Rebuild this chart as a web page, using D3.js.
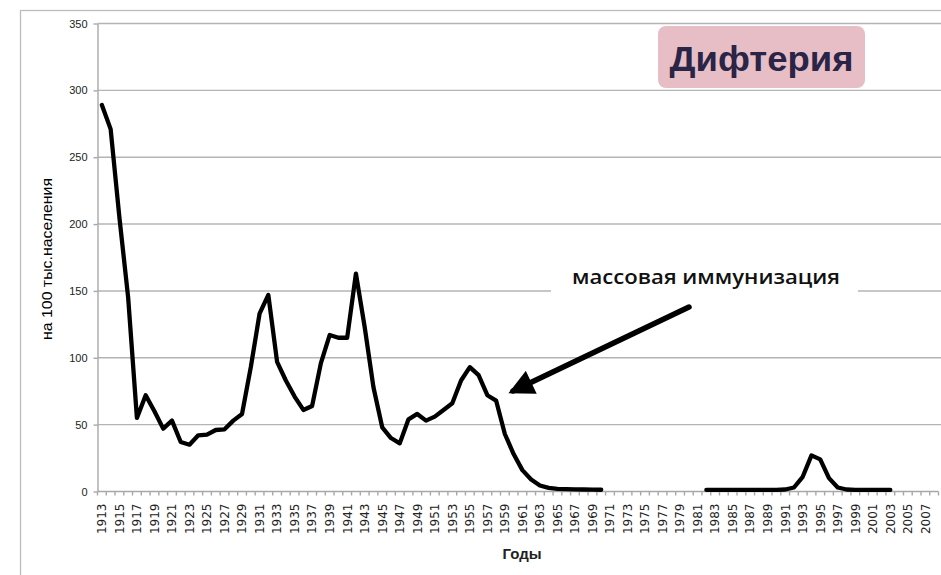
<!DOCTYPE html>
<html lang="ru">
<head>
<meta charset="UTF-8">
<title>Дифтерия</title>
<script src="https://d3js.org/d3.v7.min.js"></script>
<style>
  body { margin: 0; background: #fff; }
  svg { display: block; }
  .grid line { stroke: #b4b4b4; stroke-width: 1.4; }
  .axis path, .axis line { stroke: #a8a8a8; stroke-width: 1.4; }
  .axis text { fill: #222; }
  .curve { fill: none; stroke: #000; stroke-width: 4.3; stroke-linejoin: round; stroke-linecap: round; }
</style>
</head>
<body>
<svg width="941" height="575"></svg>
<script>
// years on the x axis, 1913..2008
const years = d3.range(1913, 2009);

// cases per 100 000 population (null = no data)
const cases = [
  289, 271, 205, 145, 55, 72, 60, 47, 53, 37,          // 1913-1922
  35, 42, 42.5, 46, 46.5, 53, 58, 93, 133, 147,       // 1923-1932
  97, 83, 71, 61, 64, 96, 117, 115, 115, 163,         // 1933-1942
  123, 78, 48, 40, 36, 54, 58, 53, 56, 61,            // 1943-1952
  66, 83, 93, 87, 72, 68, 43, 28, 16, 9,              // 1953-1962
  4.5, 2.7, 2, 1.8, 1.6, 1.5, 1.4, 1.3, null, null,   // 1963-1972
  null, null, null, null, null, null, null, null, null, 1.2, // 1973-1982
  1.2, 1.2, 1.2, 1.2, 1.2, 1.2, 1.2, 1.2, 1.5, 3,     // 1983-1992
  11, 27, 24, 10, 3, 1.5, 1.2, 1.2, 1.2, 1.2,         // 1993-2002
  1.2, null, null, null, null, null                   // 2003-2008
];

const yTicks = [0, 50, 100, 150, 200, 250, 300, 350];
const xLabelYears = years.filter(y => (y - 1913) % 2 === 0 && y <= 2007);

const chartTitle = "Дифтерия";
const yTitle = "на 100 тыс.населения";
const xTitle = "Годы";
const noteText = "массовая иммунизация";

const svg = d3.select("svg");

// outer frame of the pasted chart
svg.append("rect")
  .attr("x", 20.5).attr("y", 10.5)
  .attr("width", 940).attr("height", 600)
  .attr("fill", "none").attr("stroke", "#bdbdbd").attr("stroke-width", 1.3);

const x = d3.scaleBand().domain(years).range([97.5, 938.5]).padding(0);
const y = d3.scaleLinear().domain([0, 350]).range([491.5, 23.5]);

// horizontal grid
svg.append("g").attr("class", "grid")
  .selectAll("line").data(yTicks.filter(d => d > 0)).join("line")
  .attr("x1", 97.5).attr("x2", 941)
  .attr("y1", d => y(d)).attr("y2", d => y(d));

// y axis
const yAxis = svg.append("g").attr("class", "axis")
  .attr("transform", "translate(97.5,0)")
  .call(d3.axisLeft(y).tickValues(yTicks).tickSize(4).tickPadding(6).tickSizeOuter(0));
yAxis.selectAll("text")
  .attr("font-family", "Liberation Sans, Arial, sans-serif")
  .attr("font-size", 11)
  .attr("fill", "#333");

// x axis: labels every second year, tick marks on category boundaries
const xAxis = svg.append("g").attr("class", "axis")
  .attr("transform", "translate(0,491.5)")
  .call(d3.axisBottom(x).tickValues(xLabelYears).tickSize(0).tickSizeOuter(0));
xAxis.select(".domain").attr("d", "M97.5,0H938.5");
xAxis.selectAll("text")
  .attr("font-family", "DejaVu Sans, sans-serif")
  .attr("font-size", 12)
  .attr("fill", "#111")
  .attr("transform", "rotate(-90)")
  .attr("text-anchor", "end")
  .attr("x", -12)
  .attr("y", 0)
  .attr("dy", "0.36em");

xAxis.selectAll(".bound").data(years.concat([null])).join("line")
  .attr("class", "bound")
  .attr("x1", d => d === null ? 938.5 : x(d))
  .attr("x2", d => d === null ? 938.5 : x(d))
  .attr("y1", 0).attr("y2", 4);

// data line
const line = d3.line()
  .defined(d => d.v !== null)
  .x(d => x(d.year) + x.bandwidth() / 2)
  .y(d => y(d.v));

svg.append("path")
  .datum(years.map((yr, i) => ({ year: yr, v: cases[i] })))
  .attr("class", "curve")
  .attr("d", line);

// axis titles
svg.append("text")
  .attr("transform", "translate(52,259) rotate(-90)")
  .attr("text-anchor", "middle")
  .attr("font-family", "Liberation Sans, Arial, sans-serif")
  .attr("font-size", 15)
  .attr("textLength", 162)
  .attr("lengthAdjust", "spacingAndGlyphs")
  .attr("fill", "#000")
  .text(yTitle);

svg.append("text")
  .attr("x", 522).attr("y", 559)
  .attr("text-anchor", "middle")
  .attr("font-family", "Liberation Sans, Arial, sans-serif")
  .attr("font-size", 15)
  .attr("font-weight", "bold")
  .attr("fill", "#222")
  .text(xTitle);

// annotation with white backing and arrow
svg.append("rect")
  .attr("x", 551).attr("y", 262)
  .attr("width", 307).attr("height", 34)
  .attr("fill", "#fff");

svg.append("text")
  .attr("x", 706).attr("y", 284)
  .attr("text-anchor", "middle")
  .attr("font-family", "Open Sans, Liberation Sans, sans-serif")
  .attr("font-size", 19)
  .attr("font-weight", 600)
  .attr("textLength", 268)
  .attr("lengthAdjust", "spacingAndGlyphs")
  .attr("fill", "#111")
  .text(noteText);

svg.append("defs").append("marker")
  .attr("id", "head")
  .attr("viewBox", "0 0 10 10")
  .attr("refX", 8).attr("refY", 5)
  .attr("markerWidth", 5).attr("markerHeight", 4.6)
  .attr("orient", "auto")
  .append("path").attr("d", "M0,0L10,5L0,10Z").attr("fill", "#000");

svg.append("line")
  .attr("x1", 689).attr("y1", 307)
  .attr("x2", 513).attr("y2", 391)
  .attr("stroke", "#000").attr("stroke-width", 5.5).attr("stroke-linecap", "round")
  .attr("marker-end", "url(#head)");

// title box
svg.append("rect")
  .attr("x", 658).attr("y", 26)
  .attr("width", 207).attr("height", 62)
  .attr("rx", 8)
  .attr("fill", "#e7bec6");

svg.append("text")
  .attr("x", 761.5).attr("y", 71)
  .attr("text-anchor", "middle")
  .attr("font-family", "Liberation Sans, Arial, sans-serif")
  .attr("font-size", 35)
  .attr("font-weight", "bold")
  .attr("textLength", 184)
  .attr("lengthAdjust", "spacingAndGlyphs")
  .attr("fill", "#2a2446")
  .text(chartTitle);
</script>
</body>
</html>
